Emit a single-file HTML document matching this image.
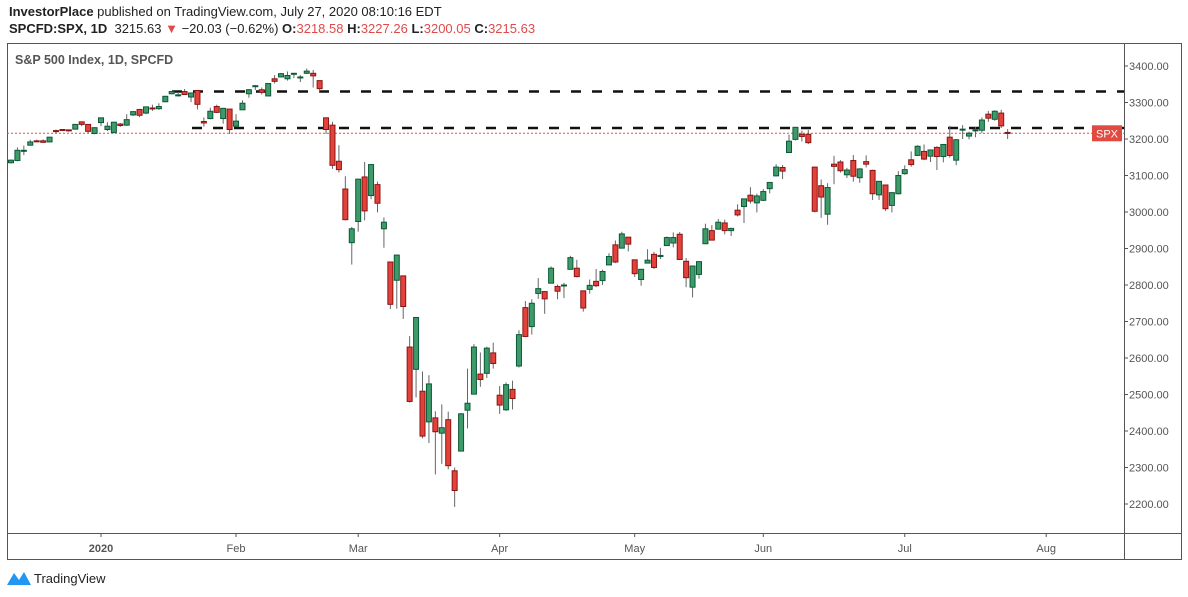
<!DOCTYPE html>
<html><head><meta charset="utf-8">
<style>
html,body{margin:0;padding:0;background:#fff;width:1188px;height:597px;overflow:hidden;font-family:"Liberation Sans",sans-serif;}
.h1{position:absolute;left:9px;top:4px;font-size:13px;color:#222;}
.h2{position:absolute;left:9px;top:21px;font-size:13px;color:#222;}
.r{color:#e04a4a;}
svg{position:absolute;left:0;top:0;}
</style></head><body>
<div class="h1"><b>InvestorPlace</b> published on TradingView.com, July 27, 2020 08:10:16 EDT</div>
<div class="h2"><b>SPCFD:SPX, 1D</b>&nbsp; 3215.63 <span class="r">▼</span> −20.03 (−0.62%) <b>O:</b><span class="r">3218.58</span> <b>H:</b><span class="r">3227.26</span> <b>L:</b><span class="r">3200.05</span> <b>C:</b><span class="r">3215.63</span></div>
<svg id="chart" width="1188" height="597"></svg>
<script>
const dates=["12-11","12-12","12-13","12-16","12-17","12-18","12-19","12-20","12-23","12-24","12-26","12-27","12-30","12-31",
"01-02","01-03","01-06","01-07","01-08","01-09","01-10","01-13","01-14","01-15","01-16","01-17","01-21","01-22","01-23","01-24","01-27","01-28","01-29","01-30","01-31",
"02-03","02-04","02-05","02-06","02-07","02-10","02-11","02-12","02-13","02-14","02-18","02-19","02-20","02-21","02-24","02-25","02-26","02-27","02-28",
"03-02","03-03","03-04","03-05","03-06","03-09","03-10","03-11","03-12","03-13","03-16","03-17","03-18","03-19","03-20","03-23","03-24","03-25","03-26","03-27","03-30","03-31",
"04-01","04-02","04-03","04-06","04-07","04-08","04-09","04-13","04-14","04-15","04-16","04-17","04-20","04-21","04-22","04-23","04-24","04-27","04-28","04-29","04-30",
"05-01","05-04","05-05","05-06","05-07","05-08","05-11","05-12","05-13","05-14","05-15","05-18","05-19","05-20","05-21","05-22","05-26","05-27","05-28","05-29",
"06-01","06-02","06-03","06-04","06-05","06-08","06-09","06-10","06-11","06-12","06-15","06-16","06-17","06-18","06-19","06-22","06-23","06-24","06-25","06-26","06-29","06-30",
"07-01","07-02","07-06","07-07","07-08","07-09","07-10","07-13","07-14","07-15","07-16","07-17","07-20","07-21","07-22","07-23","07-24"];
const opens=[3135,3141,3167,3183,3195,3195,3192,3223,3226,3225,3227,3247,3240,3215,
3245,3226,3218,3241,3238,3266,3281,3271,3285,3283,3302,3324,3321,3330,3315,3333,3248,3256,3289,3256,3282,
3235,3280,3324,3344,3335,3318,3365,3370,3365,3378,3370,3380,3380,3360,3258,3238,3139,3063,2916,
2974,3096,3045,3075,2954,2863,2813,2825,2630,2569,2509,2425,2436,2394,2431,2291,2345,2457,2501,2556,2558,2614,
2498,2458,2514,2578,2738,2686,2777,2782,2805,2796,2800,2843,2846,2784,2788,2810,2812,2855,2910,2901,2931,
2869,2815,2860,2884,2878,2908,2915,2939,2865,2794,2829,2913,2949,2953,2970,2949,3005,3015,3046,3025,
3032,3064,3099,3122,3163,3199,3213,3213,3123,3072,2994,3131,3137,3102,3141,3094,3138,3114,3047,3074,3018,3050,
3105,3143,3155,3166,3153,3177,3152,3205,3142,3225,3208,3224,3224,3268,3254,3271,3218];
const highs=[3144,3177,3182,3198,3198,3199,3205,3226,3227,3226,3240,3247,3240,3232,
3258,3246,3247,3244,3268,3275,3282,3288,3294,3298,3317,3330,3329,3337,3326,3334,3259,3286,3294,3285,3282,
3268,3306,3337,3348,3341,3352,3375,3381,3385,3381,3375,3393,3389,3360,3259,3247,3183,3098,2959,
3091,3137,3130,3083,2985,2864,2883,2825,2660,2711,2563,2553,2454,2473,2453,2300,2449,2571,2638,2615,2631,2642,
2523,2533,2538,2676,2756,2761,2819,2782,2851,2801,2806,2880,2869,2785,2815,2844,2842,2887,2922,2946,2931,
2869,2844,2898,2891,2902,2933,2944,2945,2874,2852,2865,2968,2964,2981,2979,2957,3021,3036,3068,3050,
3063,3082,3131,3129,3212,3233,3223,3225,3124,3089,3079,3154,3142,3121,3156,3120,3155,3116,3084,3074,3054,3112,
3128,3166,3183,3185,3171,3180,3186,3236,3200,3238,3220,3233,3259,3277,3279,3280,3227];
const lows=[3133,3139,3156,3183,3191,3189,3192,3216,3222,3220,3227,3235,3216,3213,
3235,3222,3215,3233,3236,3263,3260,3268,3277,3280,3302,3322,3316,3321,3301,3281,3234,3254,3271,3242,3214,
3235,3280,3313,3334,3322,3317,3352,3369,3360,3367,3356,3378,3341,3328,3214,3118,3108,2977,2856,
2946,2977,3035,2999,2902,2734,2735,2707,2478,2492,2380,2367,2281,2310,2295,2192,2345,2407,2501,2521,2545,2571,
2447,2455,2459,2574,2657,2664,2762,2721,2805,2761,2764,2843,2821,2727,2776,2794,2800,2855,2860,2901,2892,
2822,2798,2862,2844,2871,2908,2903,2869,2794,2766,2817,2913,2922,2953,2939,2934,2988,2970,3023,2999,
3030,3051,3098,3090,3163,3196,3193,3186,2999,2984,2965,3076,3108,3093,3083,3080,3122,3033,3033,3003,2999,3048,
3102,3124,3155,3142,3137,3115,3136,3149,3128,3200,3199,3205,3216,3247,3250,3230,3200];
const closes=[3142,3169,3169,3192,3193,3191,3205,3221,3224,3223,3240,3240,3221,3231,
3258,3235,3246,3237,3253,3275,3265,3288,3283,3289,3317,3330,3321,3322,3326,3295,3244,3276,3273,3284,3226,
3249,3298,3335,3346,3328,3352,3358,3379,3374,3380,3370,3386,3373,3338,3226,3128,3116,2979,2954,
3090,3003,3130,3024,2972,2747,2882,2741,2481,2711,2386,2529,2398,2409,2305,2237,2447,2476,2630,2541,2627,2585,
2471,2527,2489,2664,2659,2750,2790,2762,2846,2783,2800,2875,2823,2737,2799,2798,2837,2878,2863,2940,2912,
2831,2843,2868,2848,2881,2930,2930,2870,2820,2852,2864,2954,2923,2972,2949,2955,2992,3036,3030,3044,
3056,3081,3123,3112,3194,3232,3207,3190,3002,3041,3067,3125,3113,3115,3098,3118,3131,3050,3084,3009,3053,3100,
3116,3130,3180,3145,3170,3152,3185,3155,3198,3227,3216,3225,3252,3257,3276,3236,3216];
const yTicks=[2200,2300,2400,2500,2600,2700,2800,2900,3000,3100,3200,3300,3400];
const monthStarts=["01-02","02-03","03-02","04-01","05-01","06-01","07-01"];
const monthLabels=["2020","Feb","Mar","Apr","May","Jun","Jul","Aug"];
const levels=[3330,3230];
const lastClose=3215.63;

const NS="http://www.w3.org/2000/svg";
const svg=document.getElementById('chart');
const X0=7,X1=1124,Y0=43,Y1=533,XR=1182,YB=560;
const step=6.43, ref=14, refX=101;
function xs(i){return refX+(i-ref)*step;}
function ys(v){return 66+(3400-v)*0.365;}
function mk(tag,attrs,parent){const e=document.createElementNS(NS,tag);for(const k in attrs)e.setAttribute(k,attrs[k]);(parent||svg).appendChild(e);return e;}

let frame=mk('rect',{x:X0+0.5,y:Y0+0.5,width:XR-X0-1,height:YB-Y0-1,fill:'none',stroke:'#555','stroke-width':1});


let vline=mk('line',{x1:X1+0.5,y1:Y0,x2:X1+0.5,y2:YB,stroke:'#555'});


let hline=mk('line',{x1:X0,y1:Y1+0.5,x2:XR,y2:Y1+0.5,stroke:'#555'});



let title=mk('text',{x:15,y:64,'font-size':12.5,fill:'#555','font-weight':'bold','font-family':'Liberation Sans, sans-serif'});
title.textContent='S&P 500 Index, 1D, SPCFD';



yTicks.forEach(v=>{
  const y=ys(v);
  let t=mk('line',{x1:X1,y1:y,x2:X1+4,y2:y,stroke:'#555'});
  
  
  let l=mk('text',{x:1129,y:y+4,'font-size':11,fill:'#555','font-family':'Liberation Sans, sans-serif'});
  l.textContent=v.toFixed(2);
  
  
});

const lastIdx=dates.length-1;
monthLabels.forEach((m,k)=>{
  let i = k<monthStarts.length ? dates.indexOf(monthStarts[k]) : lastIdx+6;
  const x=xs(i);
  let t=mk('line',{x1:x,y1:Y1,x2:x,y2:Y1+4,stroke:'#555'});
  
  
  let l=mk('text',{x:x,y:552,'font-size':11,fill:'#555','text-anchor':'middle','font-family':'Liberation Sans, sans-serif','font-weight':m==='2020'?'bold':'normal'});
  l.textContent=m;
  
  
});

let lp=mk('line',{x1:X0,y1:ys(lastClose),x2:X1,y2:ys(lastClose),stroke:'#e04a4a','stroke-dasharray':'2,2','stroke-width':1});



const lvStart=[172,192];
levels.forEach((v,k)=>{
  let l=mk('line',{x1:lvStart[k],y1:ys(v),x2:X1,y2:ys(v),stroke:'#111','stroke-width':2.5,'stroke-dasharray':'10,11'});
  
  
});

for(let i=0;i<dates.length;i++){
  const o=opens[i],h=highs[i],l=lows[i],c=closes[i];
  const x=xs(i), up=c>=o;
  const g=mk('g',{});
  
  
  mk('line',{x1:x,y1:ys(h),x2:x,y2:ys(l),stroke:'#666','stroke-width':1},g);
  const top=ys(Math.max(o,c)), bot=ys(Math.min(o,c));
  const hh=Math.max(1,bot-top);
  mk('rect',{x:x-2.5,y:top,width:5,height:hh,fill:up?'#3f9a6a':'#e2423a',stroke:up?'#0a5a37':'#8a1414','stroke-width':1},g);
}

let tag=mk('rect',{x:1092,y:ys(lastClose)-8,width:30,height:16,fill:'#e04a40'});


let tt=mk('text',{x:1107,y:ys(lastClose)+4,'font-size':11,fill:'#fff','text-anchor':'middle','font-family':'Liberation Sans, sans-serif'});
tt.textContent='SPX';



let logo=mk('path',{d:'M7 585 L14 573 L19 580 L24 572 L31 585 Z',fill:'#2196f3'});


let lt=mk('text',{x:34,y:583,'font-size':13,fill:'#222','font-family':'Liberation Sans, sans-serif'});
lt.textContent='TradingView';


</script>
</body></html>
